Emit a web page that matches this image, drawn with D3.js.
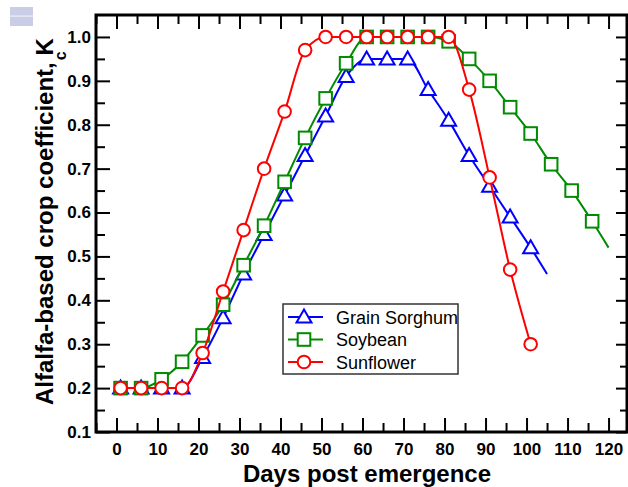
<!DOCTYPE html>
<html>
<head>
<meta charset="utf-8">
<script src="https://cdn.jsdelivr.net/npm/d3@7"></script>
<style>
  body { margin: 0; background: #fff; }
  svg { display: block; font-family: "Liberation Sans", Arial, Helvetica, sans-serif; }
</style>
</head>
<body>
<script>
//DATA (markers every 5 days)
const sorghumDays = [1, 6, 11, 16, 21, 26, 31, 36, 41, 46, 51, 56, 61, 66, 71, 76, 81, 86, 91, 96, 101];
const sorghumKc = [0.2, 0.2, 0.2, 0.2, 0.27, 0.36, 0.46, 0.55, 0.64, 0.73, 0.82, 0.91, 0.95, 0.95, 0.95, 0.88, 0.81, 0.73, 0.66, 0.59, 0.52];
const sorghumEnd = [105, 0.46];

const soybeanDays = [1, 6, 11, 16, 21, 26, 31, 36, 41, 46, 51, 56, 61, 66, 71, 76, 81, 86, 91, 96, 101, 106, 111, 116];
const soybeanKc = [0.2, 0.2, 0.22, 0.26, 0.32, 0.39, 0.48, 0.57, 0.67, 0.77, 0.86, 0.94, 1.0, 1.0, 1.0, 1.0, 0.99, 0.95, 0.90, 0.84, 0.78, 0.71, 0.65, 0.58];
const soybeanEnd = [120, 0.52];

const sunflowerDays = [1, 6, 11, 16, 21, 26, 31, 36, 41, 46, 51, 56, 61, 66, 71, 76, 81, 86, 91, 96, 101];
const sunflowerKc = [0.2, 0.2, 0.2, 0.2, 0.28, 0.42, 0.56, 0.70, 0.83, 0.97, 1.0, 1.0, 1.0, 1.0, 1.0, 1.0, 1.0, 0.88, 0.68, 0.47, 0.30];

const xTicks = [0, 10, 20, 30, 40, 50, 60, 70, 80, 90, 100, 110, 120];
const yTicks = [0.1, 0.2, 0.3, 0.4, 0.5, 0.6, 0.7, 0.8, 0.9, 1.0];
const legendLabels = ["Grain Sorghum", "Soybean", "Sunflower"];

//USEFUL VARIABLES
const svgwidth = 628;
const svgheight = 487;
const frame = { left: 96, right: 627, top: 15, bottom: 432 };

const X = d3.scaleLinear().domain([-5, 124.5]).range([frame.left, frame.right]);
const Y = d3.scaleLinear().domain([0.1, 1.05]).range([frame.bottom, frame.top]);

const svg = d3.select("body").append("svg")
    .attr("width", svgwidth)
    .attr("height", svgheight);

//LITTLE BADGE TOP LEFT
svg.append("rect").attr("x", 10).attr("y", 7).attr("width", 23).attr("height", 19).attr("fill", "#c9cee6");
svg.append("rect").attr("x", 10).attr("y", 15.5).attr("width", 23).attr("height", 1.2).attr("fill", "#eef0f8");

//AXES (ticks point inward)
const minorX = d3.range(-5, 125, 5).filter(d => d % 10 !== 0);
const minorY = d3.range(0.15, 1.05, 0.1);

const addAxis = (axis, transform, labels) => {
    const g = svg.append("g").attr("transform", transform).call(axis);
    g.select(".domain").remove();
    g.selectAll("line").attr("stroke", "#000").attr("stroke-width", 2);
    if (labels) {
        g.selectAll("text").attr("fill", "#000").attr("font-size", 17).attr("font-weight", "bold");
    } else {
        g.selectAll("text").remove();
    }
    return g;
};

addAxis(d3.axisBottom(X).tickValues(xTicks).tickSize(-14).tickPadding(11).tickFormat(d3.format("d")),
    `translate(0,${frame.bottom})`, true);
addAxis(d3.axisBottom(X).tickValues(minorX).tickSize(-9), `translate(0,${frame.bottom})`, false);
addAxis(d3.axisTop(X).tickValues(xTicks).tickSize(-14), `translate(0,${frame.top})`, false);
addAxis(d3.axisTop(X).tickValues(minorX).tickSize(-9), `translate(0,${frame.top})`, false);

addAxis(d3.axisLeft(Y).tickValues(yTicks).tickSize(-14).tickPadding(5).tickFormat(d3.format(".1f")),
    `translate(${frame.left},0)`, true);
addAxis(d3.axisLeft(Y).tickValues(minorY).tickSize(-9), `translate(${frame.left},0)`, false);
addAxis(d3.axisRight(Y).tickValues(yTicks).tickSize(-11), `translate(${frame.right},0)`, false);
addAxis(d3.axisRight(Y).tickValues(minorY).tickSize(-7), `translate(${frame.right},0)`, false);

//FRAME
svg.append("rect")
    .attr("x", frame.left).attr("y", frame.top)
    .attr("width", frame.right - frame.left).attr("height", frame.bottom - frame.top)
    .attr("fill", "none").attr("stroke", "#000").attr("stroke-width", 3);

//SERIES
const series = [
    { name: legendLabels[0], days: sorghumDays, kc: sorghumKc, end: sorghumEnd, color: "#0000ff", symbol: "triangle" },
    { name: legendLabels[1], days: soybeanDays, kc: soybeanKc, end: soybeanEnd, color: "#008b00", symbol: "square" },
    { name: legendLabels[2], days: sunflowerDays, kc: sunflowerKc, end: null, color: "#ff0000", symbol: "circle" }
];

const line = d3.line()
    .x(d => X(d[0]))
    .y(d => Y(d[1]))
    .curve(d3.curveMonotoneX);

const drawMarker = (g, symbol, cx, cy, color) => {
    if (symbol === "circle") {
        g.append("circle").attr("cx", cx).attr("cy", cy).attr("r", 6.3)
            .attr("fill", "#fff").attr("stroke", color).attr("stroke-width", 2);
    } else if (symbol === "square") {
        g.append("rect").attr("x", cx - 6.3).attr("y", cy - 6.3).attr("width", 12.6).attr("height", 12.6)
            .attr("fill", "#fff").attr("stroke", color).attr("stroke-width", 2);
    } else {
        g.append("path").attr("d", `M${cx},${cy - 7.5}L${cx + 7.5},${cy + 5.5}L${cx - 7.5},${cy + 5.5}Z`)
            .attr("fill", "#fff").attr("stroke", color).attr("stroke-width", 2);
    }
};

series.forEach(s => {
    const pts = s.days.map((d, i) => [d, s.kc[i]]);
    const linePts = s.end ? pts.concat([s.end]) : pts;
    const g = svg.append("g").classed("series", true);
    g.append("path")
        .attr("d", line(linePts))
        .attr("fill", "none")
        .attr("stroke", s.color)
        .attr("stroke-width", 2);
    pts.forEach(p => drawMarker(g, s.symbol, X(p[0]), Y(p[1]), s.color));
});

//LEGEND
const legend = svg.append("g").classed("legend", true);
legend.append("rect")
    .attr("x", 283).attr("y", 304).attr("width", 175).attr("height", 70)
    .attr("fill", "#fff").attr("stroke", "#333").attr("stroke-width", 1.5);
series.forEach((s, i) => {
    const cy = 317 + i * 22.5;
    legend.append("line").attr("x1", 288).attr("x2", 323).attr("y1", cy).attr("y2", cy)
        .attr("stroke", s.color).attr("stroke-width", 2);
    drawMarker(legend, s.symbol, 304, cy, s.color);
    legend.append("text").attr("x", 336).attr("y", cy + 6.5)
        .attr("font-size", 18).attr("fill", "#000").text(s.name);
});

//AXIS TITLES
svg.append("text")
    .attr("x", 367).attr("y", 481.5)
    .attr("text-anchor", "middle")
    .attr("font-size", 24).attr("font-weight", "bold")
    .text("Days post emergence");

const ytitle = svg.append("text")
    .attr("transform", "translate(53,405) rotate(-90)")
    .attr("font-size", 24).attr("font-weight", "bold");
ytitle.append("tspan").text("Alfalfa-based crop coefficient, K");
// subscript sits tucked under the K, like in the original
ytitle.append("tspan").attr("dx", -22).attr("dy", 13).attr("font-size", 16).text("c");
</script>
</body>
</html>
